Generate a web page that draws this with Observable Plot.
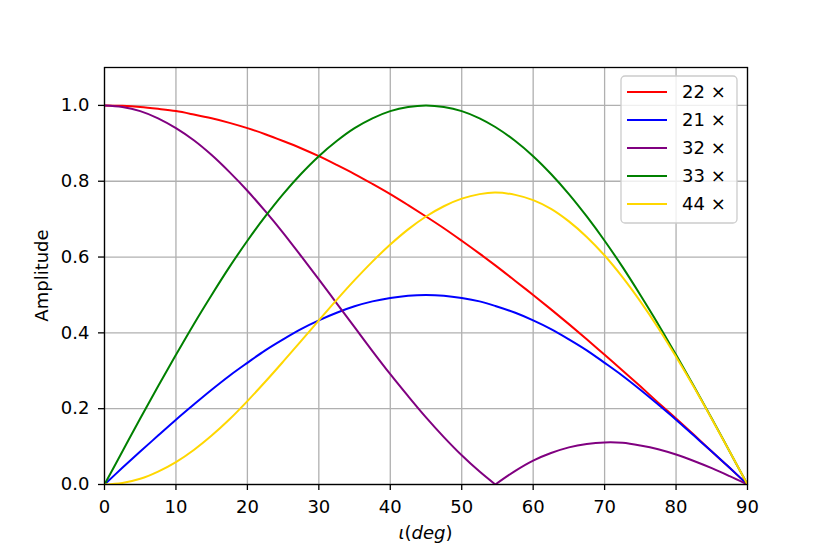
<!DOCTYPE html>
<html>
<head>
<meta charset="utf-8">
<script src="https://cdn.jsdelivr.net/npm/d3@7"></script>
<script src="https://cdn.jsdelivr.net/npm/@observablehq/plot@0.6"></script>
<style>
  html, body { margin: 0; padding: 0; background: #fff; }
  #chart { position: relative; width: 830px; height: 554px; }
  svg { font-family: "DejaVu Sans", sans-serif; }
</style>
</head>
<body>
<div id="chart"></div>
<script>
// inclination angle (deg)
const iota = [0, 2.5, 5, 7.5, 10, 12.5, 15, 17.5, 20, 22.5, 25, 27.5, 30, 32.5, 35, 37.5, 40, 42.5, 45, 47.5, 50, 52.5, 54.7, 57.5, 60, 62.5, 65, 67.5, 70, 72.5, 75, 77.5, 80, 82.5, 85, 87.5, 90];

const amp22 = [1.000, 0.999, 0.996, 0.991, 0.985, 0.976, 0.966, 0.954, 0.940, 0.924, 0.906, 0.887, 0.866, 0.843, 0.819, 0.793, 0.766, 0.737, 0.707, 0.676, 0.643, 0.609, 0.578, 0.537, 0.500, 0.462, 0.423, 0.383, 0.342, 0.301, 0.259, 0.216, 0.174, 0.131, 0.087, 0.044, 0.000];
const amp21 = [0.000, 0.044, 0.087, 0.129, 0.171, 0.211, 0.250, 0.287, 0.321, 0.354, 0.383, 0.410, 0.433, 0.453, 0.470, 0.483, 0.492, 0.498, 0.500, 0.498, 0.492, 0.483, 0.471, 0.453, 0.433, 0.410, 0.383, 0.354, 0.321, 0.287, 0.250, 0.211, 0.171, 0.129, 0.087, 0.044, 0.000];
const amp32 = [1.000, 0.996, 0.985, 0.966, 0.940, 0.908, 0.869, 0.824, 0.775, 0.721, 0.664, 0.603, 0.541, 0.478, 0.415, 0.352, 0.291, 0.233, 0.177, 0.125, 0.077, 0.034, 0.000, 0.036, 0.063, 0.083, 0.098, 0.107, 0.111, 0.110, 0.103, 0.093, 0.079, 0.062, 0.043, 0.022, 0.000];
const amp33 = [0.000, 0.087, 0.174, 0.259, 0.342, 0.423, 0.500, 0.574, 0.643, 0.707, 0.766, 0.819, 0.866, 0.906, 0.940, 0.966, 0.985, 0.996, 1.000, 0.996, 0.985, 0.966, 0.943, 0.906, 0.866, 0.819, 0.766, 0.707, 0.643, 0.574, 0.500, 0.423, 0.342, 0.259, 0.174, 0.087, 0.000];
const amp44 = [0.000, 0.004, 0.015, 0.034, 0.059, 0.091, 0.129, 0.172, 0.220, 0.271, 0.324, 0.378, 0.433, 0.487, 0.539, 0.588, 0.633, 0.673, 0.707, 0.734, 0.754, 0.766, 0.770, 0.764, 0.750, 0.727, 0.694, 0.653, 0.604, 0.547, 0.483, 0.413, 0.337, 0.257, 0.173, 0.087, 0.000];

const seriesNames = ["22 ×", "21 ×", "32 ×", "33 ×", "44 ×"];
const seriesColors = ["red", "blue", "purple", "green", "gold"];
const seriesValues = [amp22, amp21, amp32, amp33, amp44];
// the 32 curve has a cusp (zero) at this angle; the line is split there
const cuspAngle = 54.7;

const xTicks = [0, 10, 20, 30, 40, 50, 60, 70, 80, 90];
const yTicks = [0.0, 0.2, 0.4, 0.6, 0.8, 1.0];

const rows = [];
seriesNames.forEach((name, k) => {
  iota.forEach((x, i) => {
    const y = seriesValues[k][i];
    if (name === "32 ×") {
      if (x <= cuspAngle) rows.push({series: name, seg: name + "a", x, y});
      if (x >= cuspAngle) rows.push({series: name, seg: name + "b", x, y});
    } else {
      rows.push({series: name, seg: name, x, y});
    }
  });
});

const W = 830, H = 554;
const mL = 104, mR = 83, mT = 67, mB = 70;

const plot = Plot.plot({
  width: W, height: H,
  marginLeft: mL, marginRight: mR, marginTop: mT, marginBottom: mB,
  style: {fontFamily: "DejaVu Sans, sans-serif", fontSize: "18px", color: "black", background: "white"},
  x: {domain: [0, 90]},
  y: {domain: [0, 1.1]},
  color: {domain: seriesNames, range: seriesColors},
  marks: [
    Plot.gridX(xTicks, {stroke: "#b0b0b0", strokeOpacity: 1, strokeWidth: 1.3}),
    Plot.gridY(yTicks, {stroke: "#b0b0b0", strokeOpacity: 1, strokeWidth: 1.3}),
    Plot.line(rows, {x: "x", y: "y", z: "seg", stroke: "series", strokeWidth: 2, curve: "catmull-rom", clip: true}),
    Plot.frame({stroke: "black", strokeWidth: 1.3}),
    Plot.axisX(xTicks, {tickSize: 6, tickPadding: 10, tickFormat: d => String(d), label: null, fontSize: 18, strokeWidth: 1.3}),
    Plot.axisY(yTicks, {tickSize: 6, tickPadding: 9, tickFormat: d3.format(".1f"), label: null, fontSize: 18, strokeWidth: 1.3})
  ]
});

document.getElementById("chart").appendChild(plot);

const svg = d3.select(plot);

// axis labels
svg.append("text")
  .attr("transform", `translate(48,${mT + (H - mT - mB) / 2}) rotate(-90)`)
  .attr("text-anchor", "middle")
  .attr("font-size", 18)
  .attr("font-family", "DejaVu Sans, sans-serif")
  .attr("fill", "black")
  .text("Amplitude");

const xl = svg.append("text")
  .attr("x", mL + (W - mL - mR) / 2)
  .attr("y", 539)
  .attr("text-anchor", "middle")
  .attr("font-size", 18)
  .attr("font-family", "DejaVu Sans, sans-serif")
  .attr("fill", "black");
xl.append("tspan").attr("font-style", "italic").text("ι");
xl.append("tspan").text("(");
xl.append("tspan").attr("font-style", "italic").text("deg");
xl.append("tspan").text(")");

// legend
const lg = svg.append("g").attr("transform", "translate(621,76)");
lg.append("rect")
  .attr("width", 116).attr("height", 147)
  .attr("rx", 4).attr("ry", 4)
  .attr("fill", "white").attr("fill-opacity", 0.8)
  .attr("stroke", "#cccccc").attr("stroke-width", 1.3);
seriesNames.forEach((name, k) => {
  const cy = 16 + k * 28;
  lg.append("line")
    .attr("x1", 6).attr("x2", 46).attr("y1", cy).attr("y2", cy)
    .attr("stroke", seriesColors[k]).attr("stroke-width", 2);
  lg.append("text")
    .attr("x", 61).attr("y", cy).attr("dy", "0.35em")
    .attr("text-anchor", "start")
    .attr("font-size", 18)
    .attr("font-family", "DejaVu Sans, sans-serif")
    .attr("fill", "black")
    .text(name);
});
</script>
</body>
</html>
